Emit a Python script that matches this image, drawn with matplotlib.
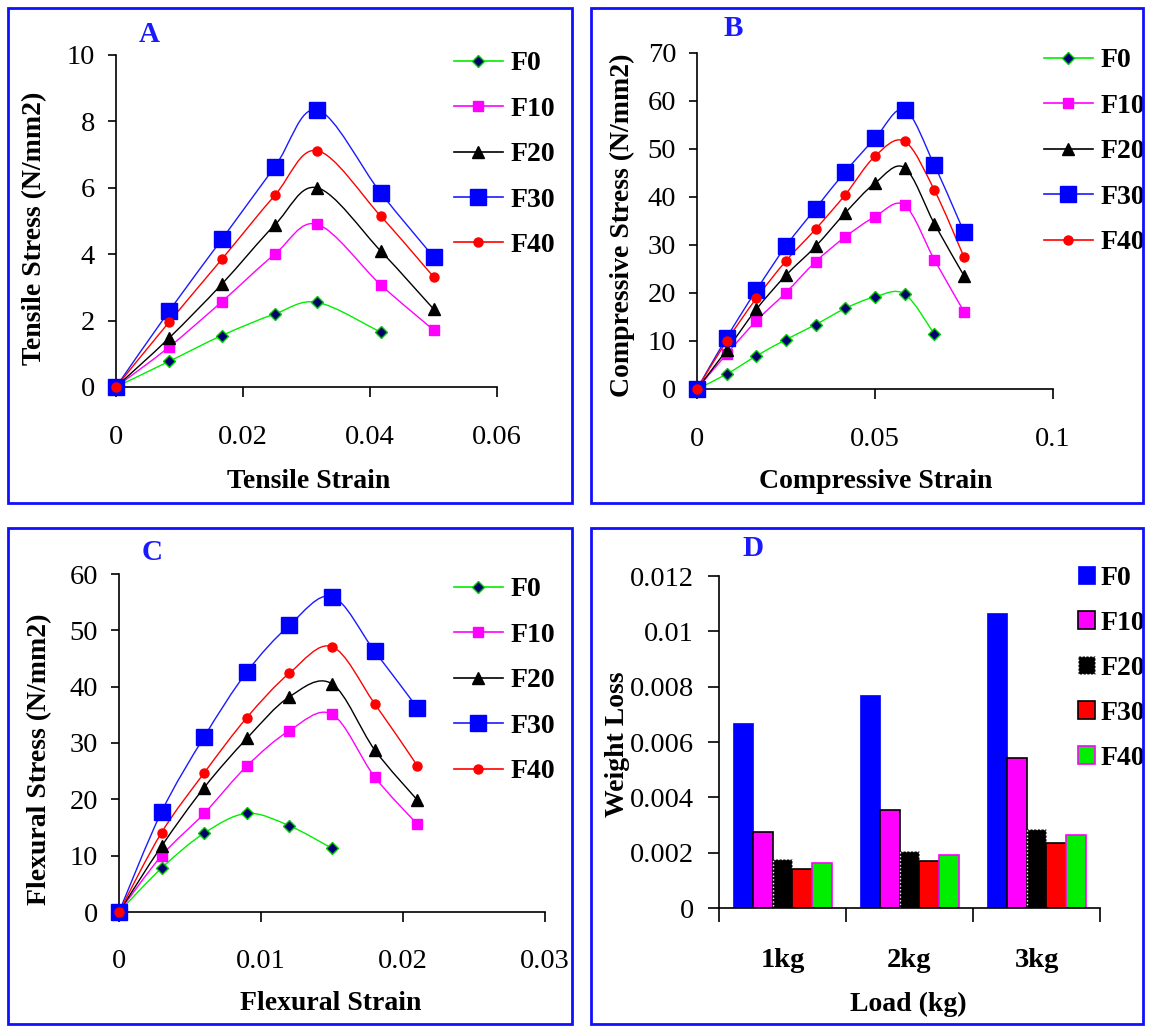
import numpy as np
import matplotlib
matplotlib.use('Agg')
import matplotlib.pyplot as plt
from matplotlib.path import Path
from matplotlib.patches import PathPatch, Rectangle
from matplotlib.lines import Line2D

plt.rcParams['font.family'] = ['Liberation Serif', 'DejaVu Serif']

W, H = 1149, 1028

# ---------------- data ----------------
series_names = ['F0', 'F10', 'F20', 'F30', 'F40']

tensile_strain = [0, 0.00833, 0.01667, 0.025, 0.0317, 0.04167, 0.05]
tensile_F0 = [0, 0.77, 1.55, 2.2, 2.55, 1.65]
tensile_F10 = [0, 1.2, 2.57, 4.0, 4.9, 3.08, 1.72]
tensile_F20 = [0, 1.47, 3.1, 4.88, 6.0, 4.1, 2.35]
tensile_F30 = [0, 2.28, 4.45, 6.63, 8.35, 5.85, 3.92]
tensile_F40 = [0, 1.95, 3.85, 5.77, 7.12, 5.15, 3.32]

comp_strain = [0, 0.00833, 0.01667, 0.025, 0.0333, 0.04167, 0.05, 0.0583, 0.0667, 0.075]
comp_F0 = [0, 3.1, 6.9, 10.3, 13.4, 16.8, 19.2, 19.8, 11.4]
comp_F10 = [0, 7.3, 14.2, 20.1, 26.5, 31.7, 35.9, 38.3, 26.9, 16.1]
comp_F20 = [0, 8.1, 16.6, 23.7, 29.7, 36.7, 42.9, 46.1, 34.4, 23.6]
comp_F30 = [0, 10.7, 20.6, 29.8, 37.6, 45.3, 52.2, 58.2, 46.6, 32.7]
comp_F40 = [0, 10.0, 18.9, 26.7, 33.3, 40.5, 48.5, 51.6, 41.4, 27.5]

flex_strain = [0, 0.003, 0.006, 0.009, 0.012, 0.015, 0.018, 0.021]
flex_F0 = [0, 7.8, 14.0, 17.5, 15.3, 11.3]
flex_F10 = [0, 10.0, 17.5, 25.9, 32.2, 35.1, 24.0, 15.6]
flex_F20 = [0, 11.7, 22.1, 30.8, 38.2, 40.5, 28.8, 19.9]
flex_F30 = [0, 17.8, 31.1, 42.6, 50.9, 56.0, 46.3, 36.3]
flex_F40 = [0, 14.1, 24.7, 34.5, 42.4, 47.1, 37.0, 26.0]

loads = ['1kg', '2kg', '3kg']
wear_F0 = [0.0067, 0.00771, 0.01067]
wear_F10 = [0.00275, 0.00355, 0.00542]
wear_F20 = [0.00178, 0.00206, 0.00287]
wear_F30 = [0.00142, 0.0017, 0.00236]
wear_F40 = [0.00164, 0.0019, 0.00263]

A_xticks = [0, 0.02, 0.04, 0.06]
A_xticklabels = ['0', '0.02', '0.04', '0.06']
A_yticks = [0, 2, 4, 6, 8, 10]
B_xticks = [0, 0.05, 0.1]
B_xticklabels = ['0', '0.05', '0.1']
B_yticks = [0, 10, 20, 30, 40, 50, 60, 70]
C_xticks = [0, 0.01, 0.02, 0.03]
C_xticklabels = ['0', '0.01', '0.02', '0.03']
C_yticks = [0, 10, 20, 30, 40, 50, 60]
D_yticks = [0, 0.002, 0.004, 0.006, 0.008, 0.01, 0.012]
D_yticklabels = ['0', '0.002', '0.004', '0.006', '0.008', '0.01', '0.012']

# ---------------- styles ----------------
line_styles = {
    'F0': dict(color='#00ee00', marker='D', mfc='#000070', mec='#00cc00', ms=6),
    'F10': dict(color='#ff00ff', marker='s', mfc='#ff00ff', mec='#ff00ff', ms=6.5),
    'F20': dict(color='#000000', marker='^', mfc='#000000', mec='#000000', ms=8),
    'F30': dict(color='#1a1aff', marker='s', mfc='#0000ff', mec='#0000ff', ms=11),
    'F40': dict(color='#ff0000', marker='o', mfc='#ff0000', mec='#ff0000', ms=6.5),
}
bar_styles = {
    'F0': dict(color='#0000ff', edgecolor='#0000ff', linewidth=0.5, linestyle='-'),
    'F10': dict(color='#ff00ff', edgecolor='#000000', linewidth=1.2, linestyle='-'),
    'F20': dict(color='#000000', edgecolor='#ffffff', linewidth=1.0, linestyle=':'),
    'F30': dict(color='#ff0000', edgecolor='#000000', linewidth=1.2, linestyle='-'),
    'F40': dict(color='#00ee00', edgecolor='#ff00ff', linewidth=1.2, linestyle='-'),
}

TICK_FS = 20.5
LABEL_FS = 20
LEG_FS = 20
TITLE_FS = 21

fig = plt.figure(figsize=(W / 100, H / 100), dpi=100)


def fx(px):
    return px / W


def fy(py):
    return 1 - py / H


def add_axes(l, t, r, b):
    ax = fig.add_axes([fx(l), fy(b), (r - l) / W, (b - t) / H])
    for s in ['top', 'right']:
        ax.spines[s].set_visible(False)
    for s in ['left', 'bottom']:
        ax.spines[s].set_linewidth(1.2)
    ax.tick_params(axis='both', direction='out', width=1.2, labelsize=TICK_FS)
    ax.tick_params(axis='y', length=6, pad=9)
    ax.tick_params(axis='x', length=7, pad=20)
    return ax


def smooth_line(ax, x, y, color):
    x = np.asarray(x, float)
    y = np.asarray(y, float)
    n = len(x)
    verts = [(x[0], y[0])]
    codes = [Path.MOVETO]
    for i in range(n - 1):
        xp, yp = (x[i - 1], y[i - 1]) if i > 0 else (x[i], y[i])
        xn, yn = (x[i + 2], y[i + 2]) if i + 2 < n else (x[i + 1], y[i + 1])
        c1 = (x[i] + (x[i + 1] - xp) / 6, y[i] + (y[i + 1] - yp) / 6)
        c2 = (x[i + 1] - (xn - x[i]) / 6, y[i + 1] - (yn - y[i]) / 6)
        verts += [c1, c2, (x[i + 1], y[i + 1])]
        codes += [Path.CURVE4] * 3
    ax.add_patch(PathPatch(Path(verts, codes), facecolor='none',
                           edgecolor=color, lw=1.0, zorder=2, clip_on=False))


def line_panel(ax, strain, series, xlim, ylim, xticks, xticklabels, yticks):
    handles = []
    for name, vals in zip(series_names, series):
        st = line_styles[name]
        xs = strain[:len(vals)]
        smooth_line(ax, xs, vals, st['color'])
        ax.plot(xs, vals, ls='none', marker=st['marker'], mfc=st['mfc'],
                mec=st['mec'], ms=st['ms'], zorder=3, clip_on=False)
        handles.append(Line2D([], [], color=st['color'], lw=1.2, marker=st['marker'],
                              mfc=st['mfc'], mec=st['mec'], ms=st['ms']))
    ax.set_xlim(*xlim)
    ax.set_ylim(*ylim)
    ax.set_xticks(xticks)
    ax.set_xticklabels(xticklabels)
    ax.set_yticks(yticks)
    ax.set_yticklabels([str(v) for v in yticks])
    return handles


def place_legend(ax, handles, left_px, top_px, handlelength=1.75, handletextpad=0.3,
                 handleheight=0.7):
    leg = ax.legend(handles, series_names, loc='upper left',
                    bbox_to_anchor=(fx(left_px), fy(top_px)),
                    bbox_transform=fig.transFigure, frameon=False,
                    borderpad=0, borderaxespad=0, labelspacing=0.72,
                    handlelength=handlelength, handletextpad=handletextpad,
                    handleheight=handleheight,
                    prop=dict(size=LEG_FS, weight='bold'))
    return leg


def border(l, t, r, b):
    fig.add_artist(Rectangle((fx(l), fy(b)), (r - l) / W, (b - t) / H,
                             transform=fig.transFigure, fill=False,
                             edgecolor='#1010ff', lw=2.0))


def ftext(px, py, s, rot=0, color='black', size=LABEL_FS, weight='bold'):
    fig.text(fx(px), fy(py), s, rotation=rot, ha='center', va='center',
             color=color, fontsize=size, fontweight=weight)


# ---------------- Panel A ----------------
axA = add_axes(116, 55, 497, 387)
hA = line_panel(axA, tensile_strain,
                [tensile_F0, tensile_F10, tensile_F20, tensile_F30, tensile_F40],
                (0, 0.06), (0, 10), A_xticks, A_xticklabels, A_yticks)
place_legend(axA, hA, 454, 51)
ftext(149, 34, 'A', color='#1a1aff', size=TITLE_FS)
ftext(309, 481, 'Tensile Strain')
ftext(35, 228, 'Tensile Stress (N/mm2)', rot=90)
border(8, 8, 572, 503)

# ---------------- Panel B ----------------
axB = add_axes(697, 53, 1053, 389)
hB = line_panel(axB, comp_strain,
                [comp_F0, comp_F10, comp_F20, comp_F30, comp_F40],
                (0, 0.1), (0, 70), B_xticks, B_xticklabels, B_yticks)
place_legend(axB, hB, 1044, 48)
ftext(733, 28, 'B', color='#1a1aff', size=TITLE_FS)
ftext(876, 481, 'Compressive Strain')
ftext(622, 225, 'Compressive Stress (N/mm2)', rot=90)
border(591, 8, 1143, 503)

# ---------------- Panel C ----------------
axC = add_axes(119, 574, 545, 912)
hC = line_panel(axC, flex_strain,
                [flex_F0, flex_F10, flex_F20, flex_F30, flex_F40],
                (0, 0.03), (0, 60), C_xticks, C_xticklabels, C_yticks)
place_legend(axC, hC, 454, 577)
ftext(152, 552, 'C', color='#1a1aff', size=TITLE_FS)
ftext(331, 1004, 'Flexural Strain')
ftext(40, 759, 'Flexural Stress (N/mm2)', rot=90)
border(8, 528, 572, 1024)

# ---------------- Panel D ----------------
axD = add_axes(719, 576, 1100, 908)
wear = [wear_F0, wear_F10, wear_F20, wear_F30, wear_F40]
cat_x = np.arange(len(loads)) + 0.5
bw = 0.155
bar_handles = []
for i, (name, vals) in enumerate(zip(series_names, wear)):
    st = bar_styles[name]
    bc = axD.bar(cat_x + (i - 2) * bw, vals, width=bw, color=st['color'],
                 edgecolor=st['edgecolor'], linewidth=st['linewidth'],
                 linestyle=st['linestyle'], zorder=2)
    bar_handles.append(bc)
axD.set_xlim(0, 3)
axD.set_ylim(0, 0.012)
axD.set_yticks(D_yticks)
axD.set_yticklabels(D_yticklabels)
axD.tick_params(axis='y', length=8, pad=10)
axD.set_xticks([0, 1, 2, 3])
axD.set_xticklabels(['', '', '', ''])
axD.tick_params(axis='x', which='major', length=10)
axD.set_xticks(cat_x, minor=True)
axD.set_xticklabels(loads, minor=True, fontsize=TICK_FS, fontweight='bold')
axD.tick_params(axis='x', which='minor', length=0, pad=29)
place_legend(axD, bar_handles, 1078, 566, handlelength=0.62, handletextpad=0.2,
             handleheight=0.62)
ftext(753, 549, 'D', color='#1a1aff', size=TITLE_FS)
ftext(908, 1004, 'Load (kg)')
ftext(618, 744, 'Weight Loss', rot=90)
border(591, 528, 1143, 1024)

fig.savefig('out.png', dpi=100)
